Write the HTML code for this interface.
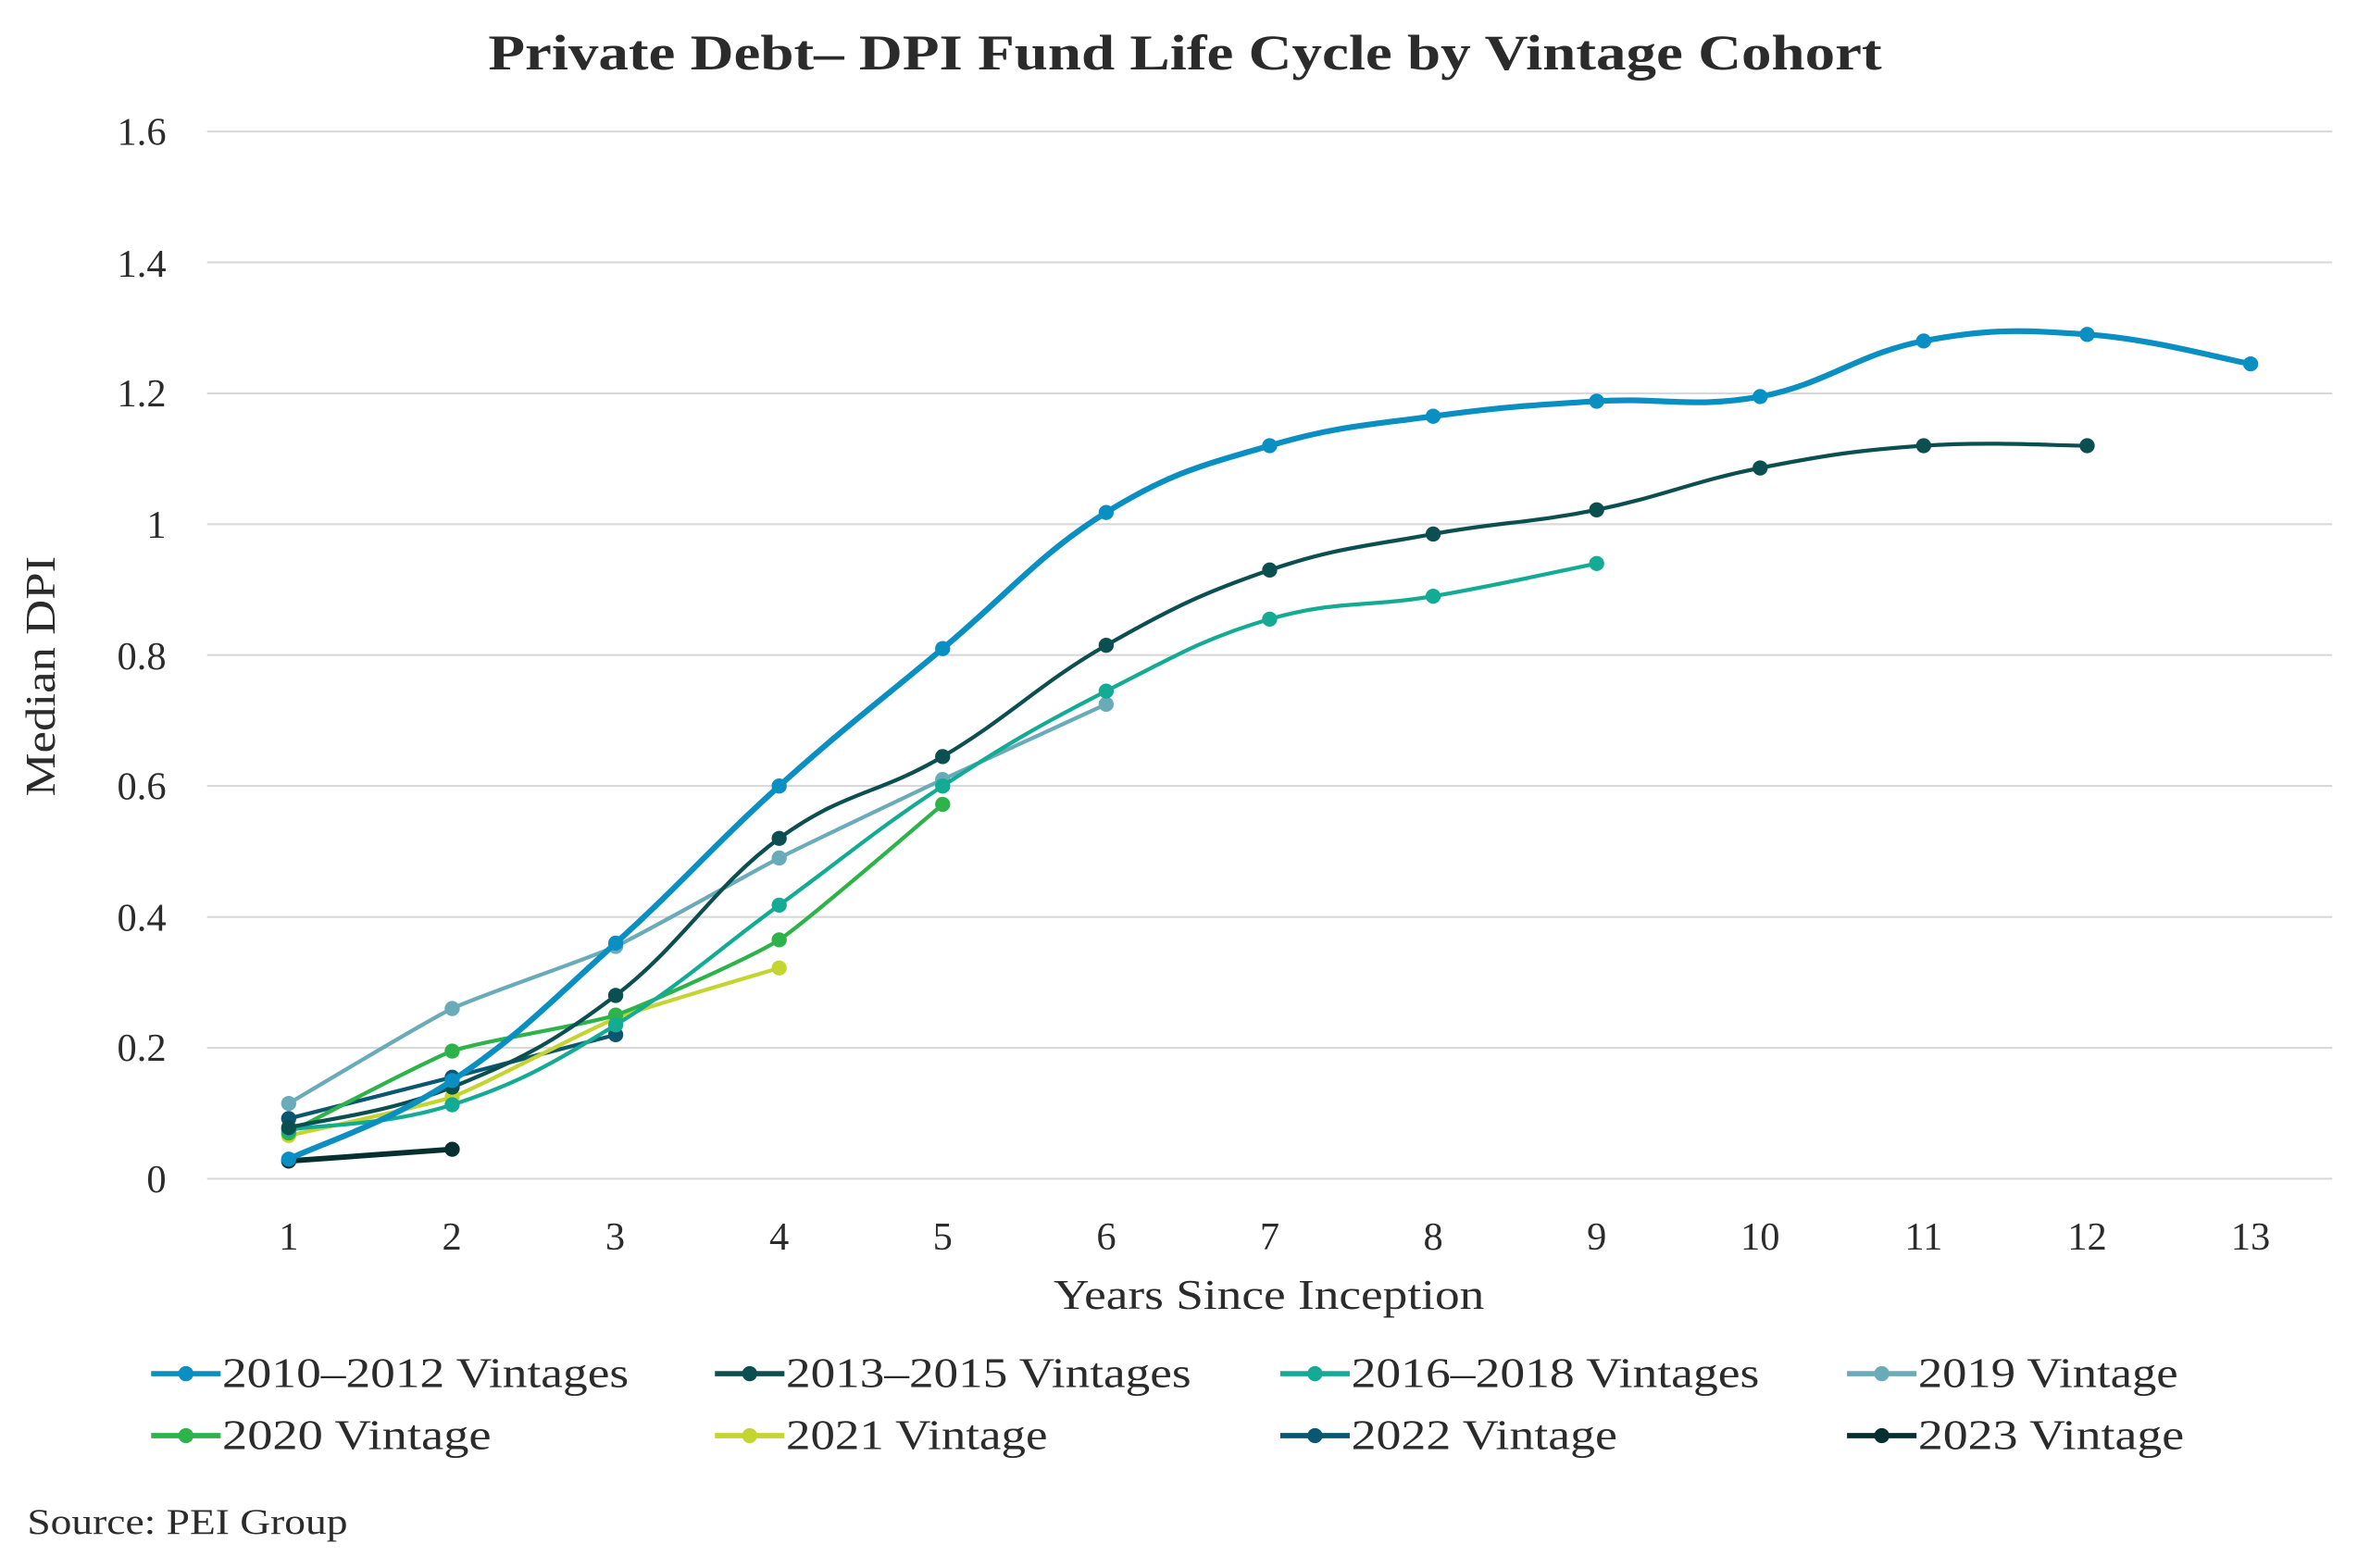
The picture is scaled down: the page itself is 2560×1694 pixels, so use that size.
<!DOCTYPE html>
<html><head><meta charset="utf-8"><style>
html,body{margin:0;padding:0;background:#fff;}
svg{display:block;}
text{font-family:"Liberation Serif",serif;fill:#2b2b2b;}
</style></head><body>
<svg id="c" width="2560" height="1694" viewBox="0 0 1568 1037.6" preserveAspectRatio="none" xmlns="http://www.w3.org/2000/svg">
<rect width="1568" height="1038" fill="#fff"/>
<text x="323" y="46" font-size="33" font-weight="bold" textLength="922" lengthAdjust="spacingAndGlyphs">Private Debt– DPI Fund Life Cycle by Vintage Cohort</text>
<g stroke="#d9d9d9" stroke-width="1.3">
<line x1="137" x2="1543" y1="87" y2="87"/><line x1="137" x2="1543" y1="173.6" y2="173.6"/>
<line x1="137" x2="1543" y1="260.3" y2="260.3"/><line x1="137" x2="1543" y1="346.9" y2="346.9"/>
<line x1="137" x2="1543" y1="433.5" y2="433.5"/><line x1="137" x2="1543" y1="520.1" y2="520.1"/>
<line x1="137" x2="1543" y1="606.8" y2="606.8"/><line x1="137" x2="1543" y1="693.4" y2="693.4"/>
<line x1="137" x2="1543" y1="780" y2="780"/>
</g>
<g font-size="26" text-anchor="end">
<text x="110" y="96">1.6</text><text x="110" y="183">1.4</text><text x="110" y="269">1.2</text>
<text x="110" y="356">1</text><text x="110" y="443">0.8</text><text x="110" y="529">0.6</text>
<text x="110" y="616">0.4</text><text x="110" y="702">0.2</text><text x="110" y="789">0</text>
</g>
<g font-size="26" text-anchor="middle">
<text x="191" y="827">1</text><text x="299" y="827">2</text><text x="407" y="827">3</text>
<text x="515.5" y="827">4</text><text x="623.7" y="827">5</text><text x="731.9" y="827">6</text>
<text x="840" y="827">7</text><text x="948.2" y="827">8</text><text x="1056.4" y="827">9</text>
<text x="1164.5" y="827">10</text><text x="1272.7" y="827">11</text><text x="1380.9" y="827">12</text>
<text x="1489" y="827">13</text>
</g>
<text x="697" y="866" font-size="28" textLength="285" lengthAdjust="spacingAndGlyphs">Years Since Inception</text>
<text transform="translate(36,527) rotate(-90)" font-size="28" textLength="159" lengthAdjust="spacingAndGlyphs">Median DPI</text>
<g id="series"></g>
<g id="legend" font-size="28"></g>
<text x="18" y="1015" font-size="24" textLength="212" lengthAdjust="spacingAndGlyphs">Source: PEI Group</text>
</svg>
<script>
var S=[
["2010–2012 Vintages","#0a8fc2",3.8,[0.03,0.15,0.36,0.60,0.81,1.018,1.12,1.165,1.188,1.195,1.28,1.29,1.245],269],
["2013–2015 Vintages","#0b4f51",2.6,[0.078,0.14,0.28,0.52,0.645,0.815,0.93,0.985,1.022,1.086,1.12,1.12],268],
["2016–2018 Vintages","#14ab95",2.6,[0.075,0.113,0.235,0.418,0.60,0.745,0.855,0.89,0.94],270],
["2019 Vintage","#6aabb9",2.6,[0.115,0.26,0.355,0.49,0.61,0.725],172],
["2020 Vintage","#2db34a",2.6,[0.07,0.195,0.25,0.365,0.572],178],
["2021 Vintage","#c4d52f",2.6,[0.066,0.125,0.245,0.322],173],
["2022 Vintage","#0b5670",2.6,[0.092,0.155,0.22],176],
["2023 Vintage","#06302f",3.6,[0.027,0.045],176]
];
function X(i){return 191+i*108.17;}function Y(v){return 780-v*433.1;}
var ns="http://www.w3.org/2000/svg",g=document.getElementById("series"),L=document.getElementById("legend");
function el(p,t,a){var e=document.createElementNS(ns,t);for(var k in a)e.setAttribute(k,a[k]);p.appendChild(e);return e;}
for(var s=S.length-1;s>=0;s--){var d=S[s][3],c=S[s][1],w=S[s][2];var P=d.map(function(v,i){return[X(i),Y(v)];});
var str="M"+P[0][0]+","+P[0][1];var t=s<3?0.2:0.08;
for(var i=0;i<P.length-1;i++){var p0=P[Math.max(i-1,0)],p1=P[i],p2=P[i+1],p3=P[Math.min(i+2,P.length-1)];
str+=" C"+(p1[0]+(p2[0]-p0[0])*t)+","+(p1[1]+(p2[1]-p0[1])*t)+" "+(p2[0]-(p3[0]-p1[0])*t)+","+(p2[1]-(p3[1]-p1[1])*t)+" "+p2[0]+","+p2[1];}
el(g,"path",{d:str,fill:"none",stroke:c,"stroke-width":w,"stroke-linejoin":"round"});
P.forEach(function(p){el(g,"circle",{cx:p[0],cy:p[1],r:5,fill:c});});}
var cols=[100,473,847,1222];
S.forEach(function(s,i){var x=cols[i%4],y=i<4?909:950;
el(L,"line",{x1:x,x2:x+46,y1:y,y2:y,stroke:s[1],"stroke-width":3.5});
el(L,"circle",{cx:x+23,cy:y,r:5,fill:s[1]});
var t=el(L,"text",{x:x+47,y:y+9,textLength:s[4],lengthAdjust:"spacingAndGlyphs"});t.textContent=s[0];});
</script>
</body></html>
